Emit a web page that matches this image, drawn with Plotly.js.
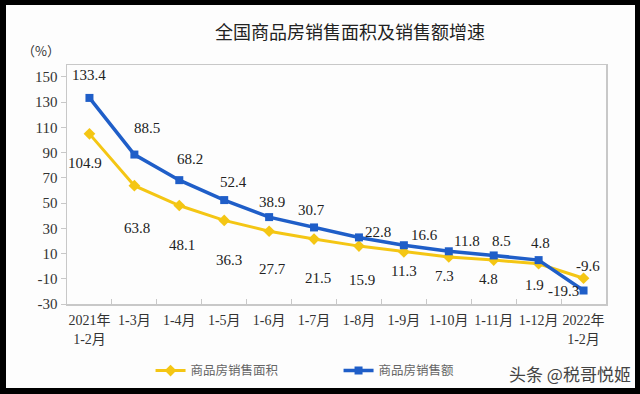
<!DOCTYPE html>
<html>
<head>
<meta charset="utf-8">
<script src="https://cdn.plot.ly/plotly-3.0.1.min.js"></script>
<style>
  html, body { margin: 0; padding: 0; background: #000; width: 640px; height: 394px; overflow: hidden; }
  #chart { position: absolute; left: 6px; top: 5px; width: 629px; height: 383px; }
</style>
</head>
<body>
<div id="chart"></div>
<script>
// ---- data ----
const categories = ['2021年<br>1-2月', '1-3月', '1-4月', '1-5月', '1-6月', '1-7月', '1-8月', '1-9月', '1-10月', '1-11月', '1-12月', '2022年<br>1-2月'];
const areaGrowth = [104.9, 63.8, 48.1, 36.3, 27.7, 21.5, 15.9, 11.3, 7.3, 4.8, 1.9, -9.6];
const salesGrowth = [133.4, 88.5, 68.2, 52.4, 38.9, 30.7, 22.8, 16.6, 11.8, 8.5, 4.8, -19.3];
const seriesNames = ['商品房销售面积', '商品房销售额'];
const yTicks = [150, 130, 110, 90, 70, 50, 30, 10, -10, -30];
const yTickText = ['150', '130', '110', '90', '70', '50', '30', '10', '-10', '-30'];

// ---- label placement (pixel offsets from each point) ----
const salesLabelShift = [[0,23],[13,27],[11,21],[9,18],[3,15],[-3,17],[19,5],[21,10],[18,10],[8,14],[2,17],[-20,0]];
const areaLabelShift = [[-4,-29],[3,-42],[3,-39],[5,-40],[3,-38],[4,-39],[3,-34],[0,-19],[-4,-19],[-5,-19],[-4,-21],[4,12]];

const YELLOW = '#F4C614';
const BLUE = '#1F5EC8';
const serif = 'Liberation Serif, DejaVu Serif, serif';
const serifCJK = 'Liberation Serif, Noto Sans CJK SC, serif';

const traces = [
  {
    x: categories, y: areaGrowth, name: seriesNames[0], type: 'scatter', mode: 'lines+markers',
    line: {color: YELLOW, width: 3},
    marker: {symbol: 'diamond', size: 9, color: YELLOW}
  },
  {
    x: categories, y: salesGrowth, name: seriesNames[1], type: 'scatter', mode: 'lines+markers',
    line: {color: BLUE, width: 3.5},
    marker: {symbol: 'square', size: 8, color: BLUE}
  }
];

const annotations = [];
function fmt(v) { return v.toFixed(1); }
salesGrowth.forEach((v, i) => {
  annotations.push({x: categories[i], y: v, xref: 'x', yref: 'y', text: fmt(v), showarrow: false,
    xanchor: 'center', yanchor: 'middle',
    xshift: salesLabelShift[i][0], yshift: salesLabelShift[i][1],
    font: {family: serif, size: 15, color: '#222'}});
});
areaGrowth.forEach((v, i) => {
  annotations.push({x: categories[i], y: v, xref: 'x', yref: 'y', text: fmt(v), showarrow: false,
    xanchor: 'center', yanchor: 'middle',
    xshift: areaLabelShift[i][0], yshift: areaLabelShift[i][1],
    font: {family: serif, size: 15, color: '#222'}});
});
annotations.push({xref: 'paper', yref: 'paper', x: -0.048, y: 1.059, xanchor: 'center', yanchor: 'middle',
  text: '（%）', showarrow: false,
  font: {family: 'Noto Sans CJK SC, sans-serif', size: 13, color: '#333'}});
annotations.push({xref: 'paper', yref: 'paper', x: 0.933, y: -0.289, xanchor: 'center', yanchor: 'middle',
  text: '头条 @税哥悦姬', showarrow: false,
  font: {family: 'Noto Sans CJK SC, sans-serif', size: 17, color: '#444'}});

const layout = {
  width: 629, height: 383,
  margin: {l: 61, r: 29, t: 60, b: 84, autoexpand: false},
  paper_bgcolor: '#fdfdfd', plot_bgcolor: '#fdfdfd',
  title: {text: '全国商品房销售面积及销售额增速', xref: 'container', x: 0.547, y: 0.927, yanchor: 'middle', xanchor: 'center',
    font: {family: 'Noto Sans CJK SC, sans-serif', size: 18, color: '#222'}},
  showlegend: true,
  legend: {orientation: 'h', x: 0.155, xanchor: 'left', y: -0.28, yanchor: 'middle',
    entrywidth: 143, entrywidthmode: 'pixels',
    font: {family: 'Noto Sans CJK SC, sans-serif', size: 12.5, color: '#666'}, bgcolor: 'rgba(0,0,0,0)'},
  xaxis: {
    type: 'category', range: [-0.5, 11.5], tickson: 'boundaries', ticks: 'inside', ticklen: 5,
    tickcolor: '#c8c8c8', showline: true, linecolor: '#c8c8c8', linewidth: 1.5, mirror: true,
    showgrid: false, zeroline: false, tickangle: 0, automargin: false, ticklabelstandoff: 3,
    tickfont: {family: serifCJK, size: 14, color: '#333'}
  },
  yaxis: {
    range: [-30, 159.5], tickvals: yTicks, ticktext: yTickText, ticks: 'outside', ticklen: 5, tickcolor: '#c8c8c8',
    showline: true, linecolor: '#c8c8c8', linewidth: 1.5, mirror: true,
    showgrid: false, zeroline: false, automargin: false,
    tickfont: {family: serif, size: 15, color: '#333'}
  },
  annotations: annotations
};

Plotly.newPlot('chart', traces, layout, {displayModeBar: false, staticPlot: true});
</script>
</body>
</html>
